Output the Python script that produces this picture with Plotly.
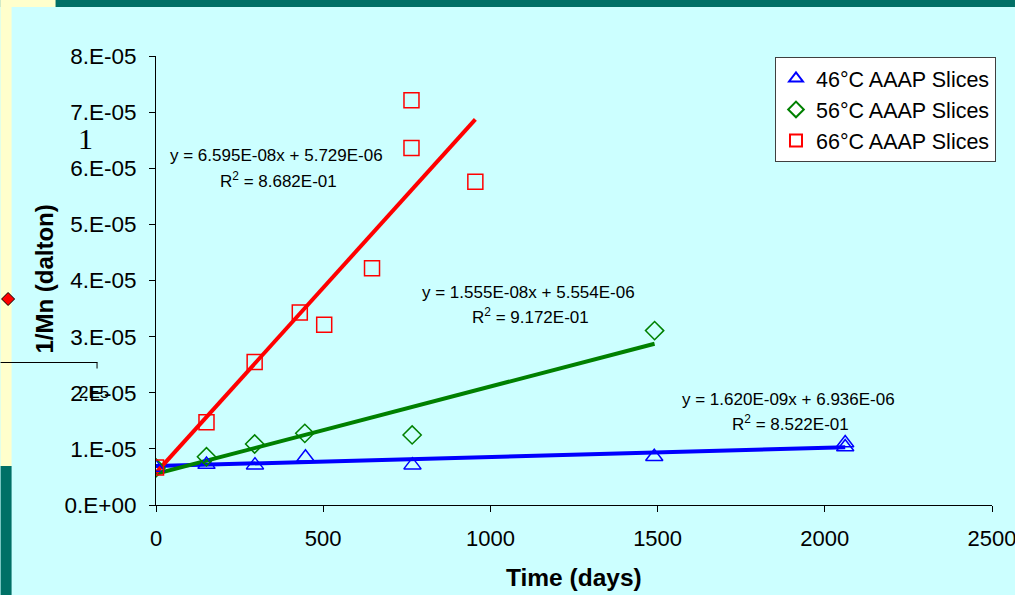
import plotly.graph_objects as go

# ---- data ----
x46 = [0, 151, 296, 447, 767, 1490, 2061, 2061]
y46 = [6.7e-6, 7.2e-6, 7.1e-6, 8.5e-6, 7.1e-6, 8.6e-6, 1.034e-5, 1.105e-5]

x56 = [0, 151, 295, 445, 766, 1491]
y56 = [6.6e-6, 8.6e-6, 1.087e-5, 1.277e-5, 1.248e-5, 3.107e-5]

x66 = [0, 151, 295, 430, 503, 646, 764, 764, 955]
y66 = [6.7e-6, 1.474e-5, 2.55e-5, 3.43e-5, 3.21e-5, 4.22e-5, 7.21e-5, 6.36e-5, 5.76e-5]

series_names = ["46°C AAAP Slices", "56°C AAAP Slices", "66°C AAAP Slices"]
slopes = [1.620e-09, 1.555e-08, 6.595e-08]
intercepts = [6.936e-06, 5.554e-06, 5.729e-06]
r2 = ["8.522E-01", "9.172E-01", "8.682E-01"]

ytick_vals = [0, 1e-5, 2e-5, 3e-5, 4e-5, 5e-5, 6e-5, 7e-5, 8e-5]
ytick_text = ["0.E+00", "1.E-05", "2.E-05", "3.E-05", "4.E-05", "5.E-05", "6.E-05", "7.E-05", "8.E-05"]
xtick_vals = [0, 500, 1000, 1500, 2000, 2500]
x_title = "Time (days)"
y_title = "1/Mn (dalton)"

# ---- layout geometry (pixels) ----
W, H = 1015, 595
L, R, T, B = 155.5, 992, 56, 505


def px(xp):
    return (xp - L) / (R - L)


def py(yp):
    return (B - yp) / (B - T)


colors = ["#0000FF", "#008000", "#FF0000"]
symbols = ["triangle-up-open", "diamond-open", "square-open"]
xs = [x46, x56, x66]
ys = [y46, y56, y66]

fig = go.Figure()

# trend lines (drawn first, markers on top)
for i in range(3):
    x0, x1 = 0, max(xs[i])
    fig.add_trace(go.Scatter(
        x=[x0, x1], y=[slopes[i] * x0 + intercepts[i], slopes[i] * x1 + intercepts[i]],
        mode="lines", line=dict(color=colors[i], width=4), showlegend=False, hoverinfo="skip"))

for i in range(3):
    fig.add_trace(go.Scatter(
        x=xs[i], y=ys[i], mode="markers", name=series_names[i],
        marker=dict(symbol=symbols[i], size=15 if i != 1 else 14, color=colors[i],
                    line=dict(width=1.5, color=colors[i]))))

FONT = "Arial, Liberation Sans"

# trend-line equation labels
eq_pos = [(788, 399, 423), (528, 292, 316), (276, 155, 180)]
for i in range(3):
    cx, y1, y2 = eq_pos[i]
    fig.add_annotation(x=px(cx), y=py(y1), xref="paper", yref="paper", showarrow=False,
                       xanchor="center", yanchor="middle",
                       text=f"y = {slopes[i]:.3E}x + {intercepts[i]:.3E}",
                       font=dict(family=FONT, size=17, color="black"))
    fig.add_annotation(x=px(cx + 2), y=py(y2), xref="paper", yref="paper", showarrow=False,
                       xanchor="center", yanchor="middle",
                       text=f"R<sup>2</sup> = {r2[i]}",
                       font=dict(family=FONT, size=17, color="black"))

# axis titles
fig.add_annotation(x=px(574), y=py(577), xref="paper", yref="paper", showarrow=False,
                   xanchor="center", yanchor="middle", text=f"<b>{x_title}</b>",
                   font=dict(family=FONT, size=24.5, color="black"))
fig.add_annotation(x=px(43), y=py(279), xref="paper", yref="paper", showarrow=False,
                   xanchor="center", yanchor="middle", textangle=-90, text=f"<b>{y_title}</b>",
                   font=dict(family=FONT, size=24, color="black"))

# slide background pieces
shapes = [
    dict(type="rect", xref="paper", yref="paper", x0=px(0), x1=px(W), y0=py(0), y1=py(7),
         fillcolor="#007066", line=dict(width=0), layer="below"),
    dict(type="rect", xref="paper", yref="paper", x0=px(0), x1=px(55), y0=py(0), y1=py(7),
         fillcolor="#FFFFCC", line=dict(width=0), layer="below"),
    dict(type="rect", xref="paper", yref="paper", x0=px(0), x1=px(11), y0=py(0), y1=py(466),
         fillcolor="#FFFFCC", line=dict(width=0), layer="below"),
    dict(type="rect", xref="paper", yref="paper", x0=px(0), x1=px(11), y0=py(466), y1=py(H),
         fillcolor="#007066", line=dict(width=0), layer="below"),
    # stray black line with tick
    dict(type="line", xref="paper", yref="paper", x0=px(0), x1=px(97), y0=py(362.5), y1=py(362.5),
         line=dict(color="black", width=1)),
    dict(type="line", xref="paper", yref="paper", x0=px(96.5), x1=px(96.5), y0=py(362.5), y1=py(368.5),
         line=dict(color="black", width=1)),
    # red diamond
    dict(type="path", xref="paper", yref="paper",
         path=f"M {px(1)},{py(299)} L {px(7.5)},{py(292.5)} L {px(14)},{py(299)} L {px(7.5)},{py(305.5)} Z",
         fillcolor="#FF0000", line=dict(color="black", width=1)),
]

fig.add_annotation(x=px(85), y=py(138), xref="paper", yref="paper", showarrow=False,
                   xanchor="center", yanchor="middle",
                   text="1", font=dict(family="Liberation Serif, Times New Roman", size=30, color="black"))
fig.add_annotation(x=px(93), y=py(392), xref="paper", yref="paper", showarrow=False,
                   xanchor="center", yanchor="middle",
                   text="2E5", font=dict(family=FONT, size=17, color="black"))

fig.update_layout(
    width=W, height=H,
    margin=dict(l=L, r=W - R, t=T, b=H - B, autoexpand=False),
    paper_bgcolor="#CCFFFF", plot_bgcolor="#CCFFFF",
    shapes=shapes,
    showlegend=True,
    legend=dict(x=px(996), y=py(57), xanchor="right", yanchor="top",
                bgcolor="white", bordercolor="#404040", borderwidth=1,
                font=dict(family=FONT, size=21.5, color="black"),
                tracegroupgap=0, itemwidth=30, itemsizing="constant"),
    font=dict(family=FONT, color="black"),
)

fig.update_xaxes(range=[0, 2500], tickvals=xtick_vals, showgrid=False, zeroline=False,
                 showline=True, linecolor="black", linewidth=1, automargin=False,
                 ticks="outside", ticklen=6, tickcolor="black", ticklabelstandoff=8,
                 ticklabeloverflow="allow",
                 tickfont=dict(size=22, family=FONT, color="black"))
fig.update_yaxes(range=[0, 8e-5], tickvals=ytick_vals, ticktext=ytick_text, showgrid=False,
                 zeroline=False, showline=True, linecolor="black", linewidth=1, automargin=False,
                 ticks="outside", ticklen=6, tickcolor="black", ticklabelstandoff=8,
                 tickfont=dict(size=22.5, family=FONT, color="black"))

fig.write_html("out.html")
